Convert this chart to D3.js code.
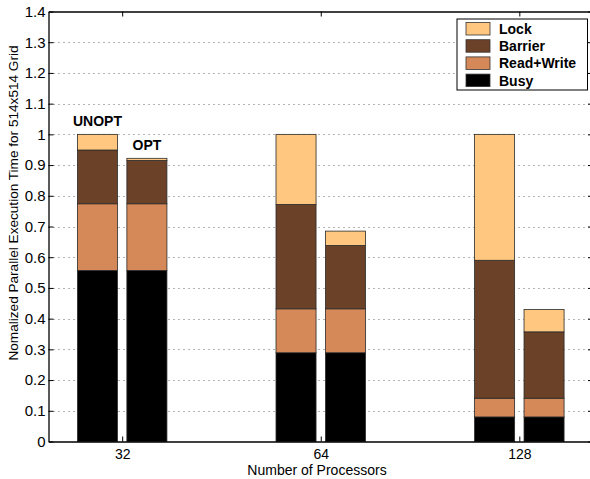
<!DOCTYPE html>
<html>
<head>
<meta charset="utf-8">
<script src="https://cdn.jsdelivr.net/npm/d3@7"></script>
<style>
  body { margin: 0; background: #fff; }
  svg { display: block; font-family: "Liberation Sans", Arial, sans-serif; }
</style>
</head>
<body>
<svg width="590" height="479"></svg>
<script>
// chart values
var procs = ["32", "64", "128"];
var versions = ["UNOPT", "OPT"];
var components = ["Busy", "Read+Write", "Barrier", "Lock"];
var yTicks = [0, 0.1, 0.2, 0.3, 0.4, 0.5, 0.6, 0.7, 0.8, 0.9, 1, 1.1, 1.2, 1.3, 1.4];

// order: 32 UNOPT, 32 OPT, 64 UNOPT, 64 OPT, 128 UNOPT, 128 OPT
var busy      = [0.557, 0.557, 0.289, 0.289, 0.080, 0.080];
var readWrite = [0.217, 0.217, 0.143, 0.143, 0.061, 0.061];
var barrier   = [0.175, 0.141, 0.340, 0.206, 0.449, 0.216];
var lock      = [0.051, 0.007, 0.228, 0.047, 0.410, 0.073];

var colors = {"Busy": "#000000", "Read+Write": "#d58858", "Barrier": "#6b4128", "Lock": "#ffc77f"};

var rows = [];
procs.forEach(function(p, i) {
  versions.forEach(function(v, j) {
    var k = i * versions.length + j;
    rows.push({proc: p, group: i + 1, version: v,
      "Busy": busy[k], "Read+Write": readWrite[k], "Barrier": barrier[k], "Lock": lock[k]});
  });
});

var svg = d3.select("svg");
// note: "top" is taken by window.top, so use plot* names
var plotLeft = 48.5, plotRight = 593, plotTop = 11.5, plotBottom = 441.5;

var x = d3.scaleLinear().domain([0.629, 3.371]).range([plotLeft, plotRight]);
var inner = d3.scaleBand().domain(versions).range([-44.75, 44.75]).paddingInner(0.19);
var y = d3.scaleLinear().domain([0, 1.4]).range([plotBottom, plotTop]);

// dotted grid
svg.append("g")
  .selectAll("line")
  .data(yTicks.filter(function(d) { return d > 0 && d < 1.4; }))
  .enter()
  .append("line")
    .attr("x1", plotLeft)
    .attr("x2", plotRight)
    .attr("y1", function(d) { return Math.round(y(d)) + 0.5; })
    .attr("y2", function(d) { return Math.round(y(d)) + 0.5; })
    .attr("stroke", "#666")
    .attr("stroke-dasharray", "1,4");

// stacked bars
var series = d3.stack().keys(components)(rows);

svg.append("g")
  .selectAll("g")
  .data(series)
  .enter()
  .append("g")
    .attr("fill", function(d) { return colors[d.key]; })
  .selectAll("rect")
  .data(function(d) { return d; })
  .enter()
  .append("rect")
    .attr("x", function(d) { return x(d.data.group) + inner(d.data.version); })
    .attr("width", inner.bandwidth())
    .attr("y", function(d) { return y(d[1]); })
    .attr("height", function(d) { return y(d[0]) - y(d[1]); })
    .attr("stroke", "#2a2a2a")
    .attr("stroke-width", 0.8);

// version labels above first group
var firstGroup = rows.filter(function(d) { return d.group === 1; });
svg.append("g")
  .selectAll("text")
  .data(firstGroup)
  .enter()
  .append("text")
    .attr("x", function(d) { return x(d.group) + inner(d.version) + inner.bandwidth() / 2; })
    .attr("y", function(d) { return y(d.Busy + d["Read+Write"] + d.Barrier + d.Lock) - 8.5; })
    .attr("text-anchor", "middle")
    .style("font-weight", "bold")
    .style("font-size", "14px")
    .text(function(d) { return d.version; });

// axes
var yAxis = svg.append("g")
  .attr("transform", "translate(" + plotLeft + ",0)")
  .call(d3.axisLeft(y).tickValues(yTicks).tickFormat(d3.format("~g"))
    .tickSizeInner(-5).tickSizeOuter(0).tickPadding(3));

svg.append("g")
  .attr("transform", "translate(" + plotRight + ",0)")
  .call(d3.axisRight(y).tickValues(yTicks).tickFormat("")
    .tickSizeInner(-5).tickSizeOuter(0));

var xAxis = svg.append("g")
  .attr("transform", "translate(0," + plotBottom + ")")
  .call(d3.axisBottom(x).tickValues([1, 2, 3])
    .tickFormat(function(d) { return procs[d - 1]; })
    .tickSizeInner(-5).tickSizeOuter(0).tickPadding(8));

svg.append("g")
  .attr("transform", "translate(0," + plotTop + ")")
  .call(d3.axisTop(x).tickValues([1, 2, 3]).tickFormat("")
    .tickSizeInner(-5).tickSizeOuter(0));

svg.selectAll(".domain").attr("stroke", "#000").attr("stroke-width", 1.3);
svg.selectAll(".tick line").attr("stroke", "#000");
svg.selectAll(".tick text")
  .attr("fill", "#000")
  .style("font-size", "14px")
  .style("font-family", "'Liberation Sans', Arial, sans-serif");
yAxis.selectAll(".tick text").style("font-size", "15px");

// axis titles
svg.append("text")
  .attr("x", 317)
  .attr("y", 475)
  .attr("text-anchor", "middle")
  .style("font-size", "14px")
  .text("Number of Processors");

svg.append("text")
  .attr("transform", "translate(18,203) rotate(-90)")
  .attr("text-anchor", "middle")
  .style("font-size", "13.6px")
  .text("Nomalized Parallel Execution Time for 514x514 Grid");

// legend
var legendItems = components.slice().reverse();
var legend = svg.append("g").attr("transform", "translate(457,19)");

legend.append("rect")
  .attr("width", 130.5)
  .attr("height", 71)
  .attr("fill", "#fff")
  .attr("stroke", "#000");

var entry = legend.selectAll("g")
  .data(legendItems)
  .enter()
  .append("g")
    .attr("transform", function(d, i) { return "translate(0," + (3.5 + i * 17.2) + ")"; });

entry.append("rect")
  .attr("x", 9)
  .attr("width", 24)
  .attr("height", 12.5)
  .attr("fill", function(d) { return colors[d]; })
  .attr("stroke", "#333")
  .attr("stroke-width", 0.8);

entry.append("text")
  .attr("x", 42)
  .attr("y", 11.5)
  .style("font-weight", "bold")
  .style("font-size", "14px")
  .text(function(d) { return d; });
</script>
</body>
</html>
